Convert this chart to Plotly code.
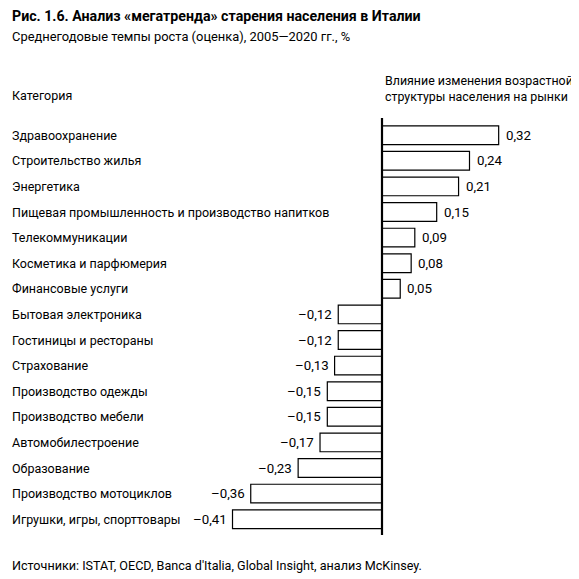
import plotly.graph_objects as go

# данные с рисунка
categories = [
    'Здравоохранение',
    'Строительство жилья',
    'Энергетика',
    'Пищевая промышленность и производство напитков',
    'Телекоммуникации',
    'Косметика и парфюмерия',
    'Финансовые услуги',
    'Бытовая электроника',
    'Гостиницы и рестораны',
    'Страхование',
    'Производство одежды',
    'Производство мебели',
    'Автомобилестроение',
    'Образование',
    'Производство мотоциклов',
    'Игрушки, игры, спорттовары',
]
impact = [0.32, 0.24, 0.21, 0.15, 0.09, 0.08, 0.05,
          -0.12, -0.12, -0.13, -0.15, -0.15, -0.17, -0.23, -0.36, -0.41]

title_text = '<b>Рис. 1.6. Анализ «мегатренда» старения населения в Италии</b>'
subtitle_text = 'Среднегодовые темпы роста (оценка), 2005—2020 гг., %'
col_left = 'Категория'
col_right = 'Влияние изменения возрастной<br>структуры населения на рынки'
source_text = "Источники: ISTAT, OECD, Banca d'Italia, Global Insight, анализ McKinsey."

FONT = 'Roboto, Liberation Sans, sans-serif'
OFF = 8            # page body margin
W = H = 579 - OFF


def fmt(v):
    return f'{v:.2f}'.replace('.', ',').replace('-', '–')


def py(p):
    # reference pixel row -> paper y
    return 1 - (p - OFF) / H


def px(p):
    return (p - OFF) / W


fig = go.Figure()
fig.add_trace(go.Bar(
    x=impact, y=categories, orientation='h',
    marker=dict(color='white', line=dict(color='black', width=1.2)),
    width=0.73,
    hoverinfo='x+y',
))

# value labels next to bar ends
for c, v in zip(categories, impact):
    fig.add_annotation(x=v, y=c, xref='x', yref='y', text=fmt(v),
                       showarrow=False,
                       xanchor='left' if v >= 0 else 'right',
                       xshift=5 if v >= 0 else -4, yanchor='middle',
                       font=dict(family=FONT, size=13.3, color='black'))

# category labels, left aligned
for c in categories:
    fig.add_annotation(x=px(10), xref='paper', y=c, yref='y', text=c,
                       showarrow=False, xanchor='left', yanchor='middle',
                       font=dict(family=FONT, size=12.5, color='black'))

# zero line
fig.add_shape(type='line', xref='x', yref='paper', x0=0, x1=0,
              y0=py(535), y1=py(118),
              line=dict(color='black', width=2.2))

texts = [
    (10, 16, title_text, 14.2, 'left'),
    (10, 37, subtitle_text, 12.9, 'left'),
    (10, 96, col_left, 12.5, 'left'),
    (383, 88, col_right, 12.4, 'left'),
    (10, 565, source_text, 12.6, 'left'),
]
for x_, y_, t, sz, anc in texts:
    fig.add_annotation(x=px(x_), y=py(y_), xref='paper', yref='paper',
                       text=t, showarrow=False, xanchor=anc, yanchor='middle',
                       align=anc, font=dict(family=FONT, size=sz, color='black'))

scale = 364.6       # px per unit
zero_px = 382 - OFF
pitch = 25.6
first_px = 135.2 - OFF

fig.update_layout(
    width=W, height=H,
    margin=dict(l=0, r=0, t=0, b=0),
    plot_bgcolor='white', paper_bgcolor='white',
    showlegend=False,
    xaxis=dict(range=[-zero_px / scale, (W - zero_px) / scale],
               visible=False, showgrid=False, zeroline=False),
    yaxis=dict(type='category', categoryorder='array', categoryarray=categories,
               range=[(H - first_px) / pitch, -first_px / pitch],
               visible=False, showgrid=False),
)

fig.write_html('out.html')
